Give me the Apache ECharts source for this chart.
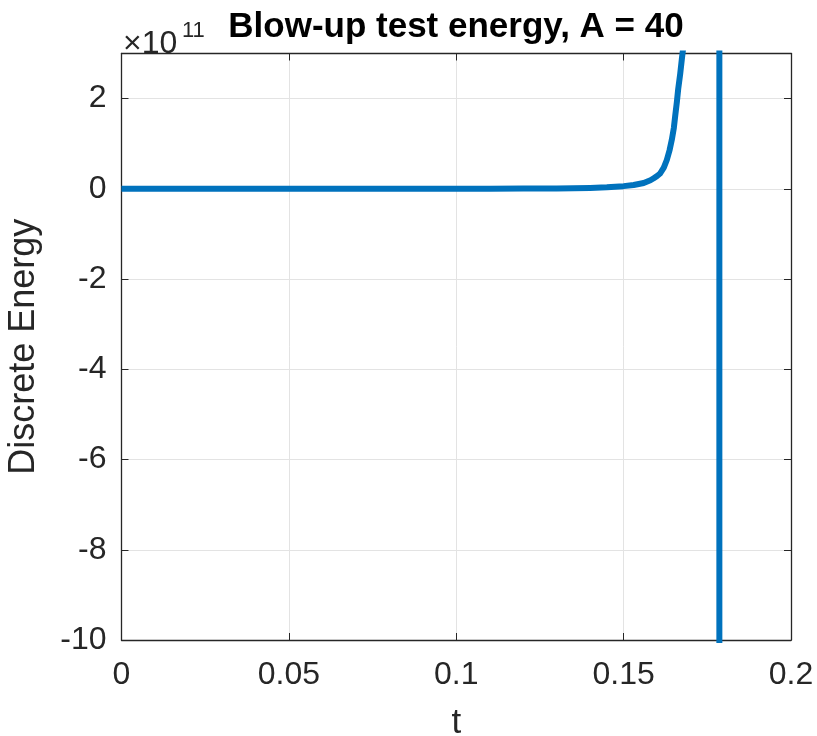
<!DOCTYPE html>
<html>
<head>
<meta charset="utf-8">
<script src="https://cdn.jsdelivr.net/npm/echarts@6/dist/echarts.min.js"></script>
<style>html,body{margin:0;padding:0;background:#fff;}#c{width:817px;height:736px;}</style>
</head>
<body>
<div id="c"></div>
<script>
// time values
var tValues = [0, 0.02, 0.04, 0.06, 0.08, 0.10, 0.11, 0.12, 0.13, 0.135, 0.14, 0.145, 0.15, 0.153, 0.156, 0.158, 0.159, 0.160, 0.1609, 0.162, 0.1629, 0.1637, 0.1644, 0.165, 0.1654, 0.1659, 0.1663, 0.1669, 0.1674, 0.168, 0.169, 0.171, 0.174, 0.177, 0.1786, 0.1786, 0.18];
// discrete energy in units of 1e11
var energyValues = [0, 0, 0, 0, 0.001, 0.002, 0.003, 0.005, 0.009, 0.013, 0.02, 0.035, 0.06, 0.085, 0.13, 0.19, 0.235, 0.285, 0.34, 0.47, 0.64, 0.85, 1.09, 1.35, 1.61, 1.92, 2.21, 2.55, 2.88, 3.25, 4.2, 9, 20, 80, 1000, -1000, -1000];
var xTicks = [0, 0.05, 0.1, 0.15, 0.2];
var yTicks = [-10, -8, -6, -4, -2, 0, 2];
var titleText = 'Blow-up test energy, A = 40';
var xName = 't';
var yName = 'Discrete Energy';
var exponentText = '×10';
var exponentSup = '11';

var FONT = '"Liberation Sans", Arial, Helvetica, sans-serif';
var AX = '#262626';
var grid = {left: 121.5, right: 26, top: 53.5, bottom: 96, outerBoundsMode: 'none', containLabel: false};

var seriesData = tValues.map(function (t, i) { return [t, energyValues[i]]; });

var chart = echarts.init(document.getElementById('c'), null, {renderer: 'canvas'});
var tickCommon = {show: true, inside: true, length: 7, lineStyle: {color: AX, width: 1}};
chart.setOption({
  animation: false,
  backgroundColor: '#fff',
  grid: grid,
  xAxis: [{
    type: 'value', position: 'bottom', min: xTicks[0], max: xTicks[xTicks.length - 1], interval: 0.05,
    name: xName, nameLocation: 'middle', nameGap: 66,
    nameTextStyle: {fontFamily: FONT, fontSize: 35, color: AX},
    axisLine: {show: true, onZero: false, lineStyle: {color: AX, width: 1.3}},
    axisTick: tickCommon,
    axisLabel: {show: true, margin: 19, fontFamily: FONT, fontSize: 32, color: AX,
      formatter: function (v) { return xTicks.indexOf(+v.toFixed(4)) >= 0 ? String(+v.toFixed(4)) : ''; }},
    splitLine: {show: true, lineStyle: {color: '#e3e3e3', width: 1}}
  }, {
    type: 'value', position: 'top', min: xTicks[0], max: xTicks[xTicks.length - 1], interval: 0.05,
    axisLine: {show: true, onZero: false, lineStyle: {color: AX, width: 1.3}},
    axisTick: tickCommon, axisLabel: {show: false}, splitLine: {show: false}
  }],
  yAxis: [{
    type: 'value', position: 'left', min: yTicks[0], max: 3, interval: 2,
    name: yName, nameLocation: 'middle', nameGap: 79, nameRotate: 90,
    nameTextStyle: {fontFamily: FONT, fontSize: 36, color: AX},
    axisLine: {show: true, onZero: false, lineStyle: {color: AX, width: 1.3}},
    axisTick: tickCommon,
    axisLabel: {show: true, margin: 15, fontFamily: FONT, fontSize: 32, color: AX,
      formatter: function (v) { return yTicks.indexOf(v) >= 0 ? String(v) : ''; }},
    splitLine: {show: true, lineStyle: {color: '#e3e3e3', width: 1}}
  }, {
    type: 'value', position: 'right', min: yTicks[0], max: 3, interval: 2,
    axisLine: {show: true, onZero: false, lineStyle: {color: AX, width: 1.3}},
    axisTick: tickCommon, axisLabel: {show: false}, splitLine: {show: false}
  }],
  graphic: [
    {type: 'text', x: 456, y: 27, z: 100,
     style: {text: titleText, font: 'bold 35px ' + FONT, fill: '#000', align: 'center', textAlign: 'center', verticalAlign: 'middle', textVerticalAlign: 'middle'}},
    {type: 'text', x: 123, y: 44, z: 100,
     style: {text: exponentText, font: '32px ' + FONT, fill: AX, align: 'left', textAlign: 'left', verticalAlign: 'middle', textVerticalAlign: 'middle'}},
    {type: 'text', x: 182, y: 31, z: 100,
     style: {text: exponentSup, font: '22px ' + FONT, fill: AX, align: 'left', textAlign: 'left', verticalAlign: 'middle', textVerticalAlign: 'middle'}}
  ],
  series: [{
    type: 'line', xAxisIndex: 0, yAxisIndex: 0, data: seriesData,
    showSymbol: false, symbol: 'none', clip: true,
    lineStyle: {color: '#0072BD', width: 6, join: 'round', cap: 'butt'},
    z: 5
  }]
});
</script>
</body>
</html>
